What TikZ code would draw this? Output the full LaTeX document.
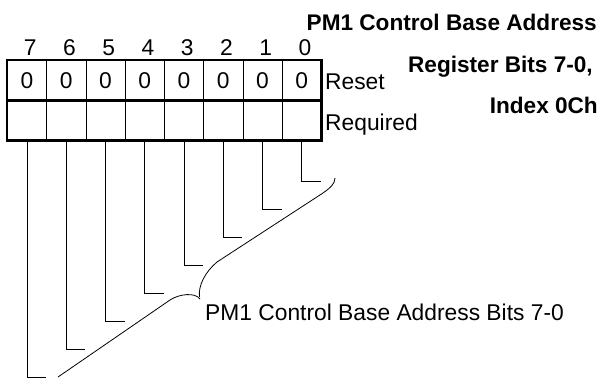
\documentclass[tikz,border=0pt]{standalone}
\usepackage{fontspec}
\setmainfont{Liberation Sans}
\usetikzlibrary{positioning}

\begin{document}
\begin{tikzpicture}[
    x=1pt, y=-1pt,
    cell/.style={draw=black, line width=0.8pt, minimum width=39.25pt, minimum height=40pt, inner sep=0pt, anchor=north west},
    bitno/.style={inner sep=0pt, anchor=base},
    caption/.style={inner sep=0pt, anchor=base west},
    heading/.style={inner sep=0pt, anchor=base east, font=\fontsize{22.6}{27}\selectfont\bfseries},
    leader/.style={line width=0.8pt},
    font=\fontsize{22.8}{27}\selectfont
]
\useasboundingbox (0,0) rectangle (604,378);

% Register cells (bit 7 on the left)
\foreach \b in {0,...,7} {
  \node[cell] (R\b) at ({7+39.25*(7-\b)},60) {0};
  \node[cell] (Q\b) at ({7+39.25*(7-\b)},100) {};
  \node[bitno] (N\b) at ({7+39.25*(7.5-\b)+3.5},55) {\b};
}

% Thick frame and row separator
\draw[line width=2.7pt] (R7.north west) rectangle (Q0.south east);
\draw[line width=2.7pt] (R7.south west) -- (R0.south east);

% Row labels
\node[caption] (reset) at (325,89.3) {Reset};
\node[caption] (required) at (325,130) {Required};

% Heading
\node[heading] (H1) at (597,30) {PM1 Control Base Address};
\node[heading] (H2) at (593,72) {Register Bits 7-0,};
\node[heading] (H3) at (598,113) {Index 0Ch};

% Leaders from each bit
\foreach \b in {0,...,7}
  \draw[leader] (Q\b.south) -- ++(0,{40.7+28.05*\b}) -- ++(19,0);

% Brace
\draw[leader] (58,377) -- (170,300) .. controls (179,294) and (195,292) .. (200,299);
\draw[leader] (199.5,297) .. controls (198,286) and (205,272) .. (217,262)
  -- (323,193) .. controls (330,188) and (335,184) .. (335,178);

\node[caption] (bits) at (205,320) {PM1 Control Base Address Bits 7-0};

\end{tikzpicture}
\end{document}
